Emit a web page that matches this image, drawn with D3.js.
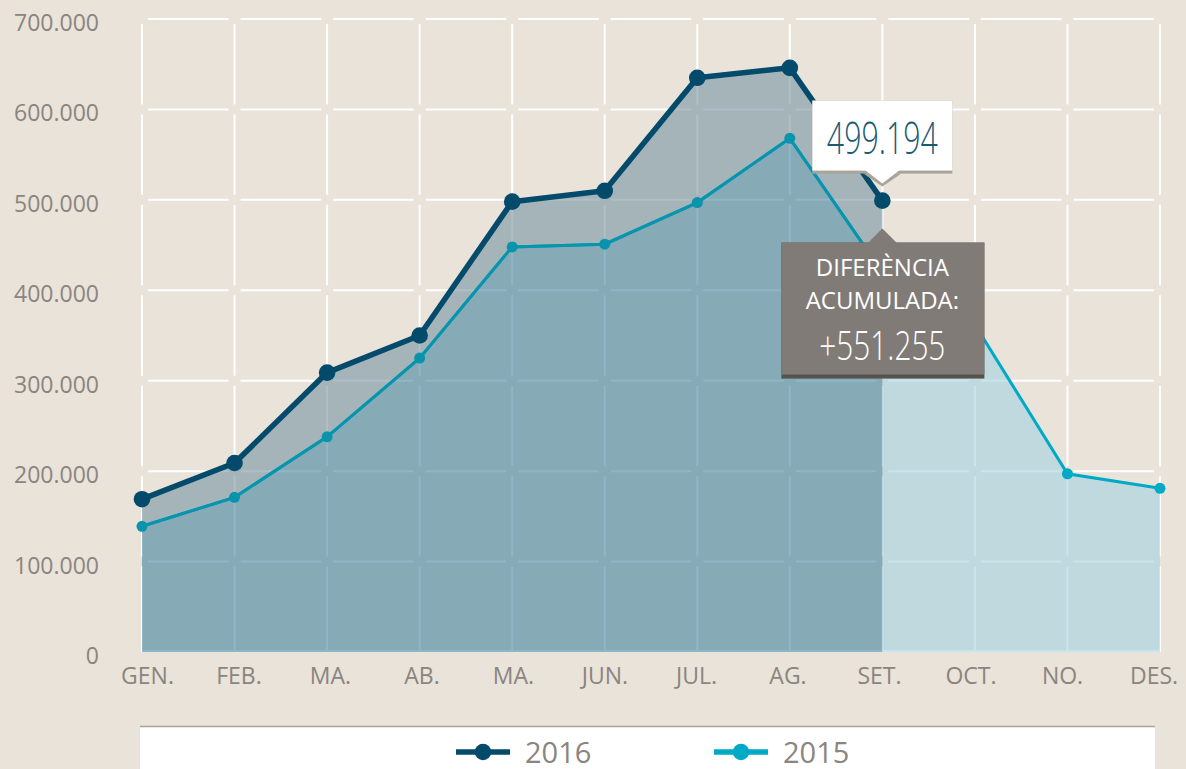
<!DOCTYPE html>
<html>
<head>
<meta charset="utf-8">
<script src="https://cdn.jsdelivr.net/npm/d3@7"></script>
<style>
  body { margin: 0; background: #e9e3da; }
  svg { display: block; font-family: "Open Sans", sans-serif; }
</style>
</head>
<body>
<div id="chart"></div>
<script>
// chart data
const months = ["GEN.", "FEB.", "MA.", "AB.", "MA.", "JUN.", "JUL.", "AG.", "SET.", "OCT.", "NO.", "DES."];
const values2016 = [169000, 209000, 309000, 350000, 498000, 510000, 635000, 646000, 499194];
const values2015 = [139000, 171000, 238000, 325000, 448000, 451000, 497000, 568000, 420000, 362000, 197000, 181000];
const yTicks = [0, 100000, 200000, 300000, 400000, 500000, 600000, 700000];
const seriesNames = ["2016", "2015"];
const diffTitle = ["DIFERÈNCIA", "ACUMULADA:"];
const diffValue = "+551.255";

const width = 1186, height = 769;
const colors = {bg: "#e9e3da", dark: "#034a6b", teal: "#00aac6", tealDim: "#0a93ac", text: "#8a857f"};

const locale = d3.formatLocale({decimal: ",", thousands: ".", grouping: [3], currency: ["", "€"]});
const fmt = locale.format(",d");

function drawChart() {
    const svg = d3.select("#chart").append("svg")
        .attr("width", width)
        .attr("height", height);

    svg.append("rect").attr("width", width).attr("height", height).attr("fill", colors.bg);

    const x = d3.scaleLinear().domain([0, months.length - 1]).range([142, 1160]);
    const xLabel = d3.scaleLinear().domain([0, months.length - 1]).range([147.5, 1154]);
    const y = d3.scaleLinear().domain([0, 700000]).range([652, 19]);

    // grid cells: white segments with small gaps at the crossings
    const grid = svg.append("g").attr("stroke", "#fff").attr("stroke-width", 2);
    const hSegs = [];
    yTicks.slice(1).forEach(t => {
        d3.range(months.length - 1).forEach(i => hSegs.push({t, i}));
    });
    grid.selectAll(".h").data(hSegs).join("line")
        .attr("x1", d => x(d.i) + 6)
        .attr("x2", d => x(d.i + 1) - 6)
        .attr("y1", d => y(d.t))
        .attr("y2", d => y(d.t));
    const vSegs = [];
    d3.range(months.length).forEach(i => {
        d3.range(yTicks.length - 1).forEach(j => vSegs.push({i, j}));
    });
    grid.selectAll(".v").data(vSegs).join("line")
        .attr("x1", d => x(d.i))
        .attr("x2", d => x(d.i))
        .attr("y1", d => y(yTicks[d.j + 1]) + 5)
        .attr("y2", d => d.j === 0 ? y(0) : y(yTicks[d.j]) - 5);
    grid.append("line")
        .attr("x1", x(0) - 1).attr("x2", x(months.length - 1))
        .attr("y1", y(0) - 1).attr("y2", y(0) - 1);

    const last = values2016.length - 1;
    const pts2015 = values2015.map((v, i) => ({i, v}));
    const pts2016 = values2016.map((v, i) => ({i, v}));

    // areas
    const area = d3.area().x(d => x(d.i)).y0(y(0)).y1(d => y(d.v));
    svg.append("path")
        .datum(pts2015.slice(last))
        .attr("fill", "#a3d2e1").attr("fill-opacity", 0.6)
        .attr("d", area);
    svg.append("path")
        .datum(pts2015.slice(0, last + 1))
        .attr("fill", "#4486a0").attr("fill-opacity", 0.6)
        .attr("d", area);
    const band = d3.area()
        .x(d => x(d.i))
        .y0(d => y(values2015[d.i]))
        .y1(d => y(d.v));
    svg.append("path")
        .datum(pts2016)
        .attr("fill", "#7895a3").attr("fill-opacity", 0.6)
        .attr("d", band);

    // lines
    const line = d3.line().x(d => x(d.i)).y(d => y(d.v));
    svg.append("path").datum(pts2015)
        .attr("fill", "none").attr("stroke", colors.teal).attr("stroke-width", 3)
        .attr("d", line);
    svg.append("path").datum(pts2015.slice(0, last + 1))
        .attr("fill", "none").attr("stroke", colors.tealDim).attr("stroke-width", 3)
        .attr("d", line);
    svg.selectAll(".dot15").data(pts2015).join("circle")
        .attr("cx", d => x(d.i)).attr("cy", d => y(d.v)).attr("r", 5.5)
        .attr("fill", d => d.i <= last ? colors.tealDim : colors.teal);

    svg.append("path").datum(pts2016)
        .attr("fill", "none").attr("stroke", colors.dark).attr("stroke-width", 5.5)
        .attr("stroke-linejoin", "round")
        .attr("d", line);
    svg.selectAll(".dot16").data(pts2016).join("circle")
        .attr("cx", d => x(d.i)).attr("cy", d => y(d.v)).attr("r", 8.3)
        .attr("fill", colors.dark);

    // axes labels
    svg.append("g").selectAll("text").data(yTicks).join("text")
        .attr("x", 99).attr("y", d => y(d) + 12)
        .attr("text-anchor", "end")
        .attr("font-size", 23).attr("fill", colors.text)
        .text(d => fmt(d));
    svg.append("g").selectAll("text").data(months).join("text")
        .attr("x", (d, i) => xLabel(i)).attr("y", 684)
        .attr("text-anchor", "middle")
        .attr("font-size", 23).attr("fill", colors.text)
        .text(d => d);

    // tooltips at the last 2016 point
    const px = x(last), py = y(values2016[last]);
    const tip = svg.append("g");
    tip.append("rect").attr("x", px - 70).attr("y", py - 100).attr("width", 140).attr("height", 73)
        .attr("fill", "#a9a499");
    tip.append("path")
        .attr("d", `M${px - 19},${py - 27} L${px},${py - 14} L${px + 19},${py - 27} Z`)
        .attr("fill", "#a9a499");
    tip.append("rect").attr("x", px - 70).attr("y", py - 100).attr("width", 140).attr("height", 70)
        .attr("fill", "#fff");
    tip.append("path")
        .attr("d", `M${px - 18},${py - 31} L${px},${py - 17} L${px + 18},${py - 31} Z`)
        .attr("fill", "#fff");
    tip.append("text")
        .attr("x", px).attr("y", py - 47)
        .attr("text-anchor", "middle")
        .attr("font-size", 44).attr("font-weight", 300).attr("fill", "#1b5a75")
        .attr("textLength", 111).attr("lengthAdjust", "spacingAndGlyphs")
        .text(fmt(values2016[last]));

    const box = svg.append("g");
    box.append("rect").attr("x", px - 101).attr("y", py + 42).attr("width", 203).attr("height", 136)
        .attr("fill", "#57524e");
    box.append("rect").attr("x", px - 101).attr("y", py + 42).attr("width", 203).attr("height", 132)
        .attr("fill", "#807b77");
    box.append("path")
        .attr("d", `M${px - 15},${py + 43} L${px},${py + 28} L${px + 15},${py + 43} Z`)
        .attr("fill", "#807b77");
    box.selectAll(".t").data(diffTitle).join("text")
        .attr("x", px).attr("y", (d, i) => py + 75.5 + i * 33)
        .attr("text-anchor", "middle")
        .attr("font-size", 24).attr("fill", "#fff")
        .text(d => d);
    box.append("text")
        .attr("x", px).attr("y", py + 159.5)
        .attr("text-anchor", "middle")
        .attr("font-size", 40).attr("font-weight", 300).attr("fill", "#fff")
        .attr("textLength", 126).attr("lengthAdjust", "spacingAndGlyphs")
        .text(diffValue);

    // legend
    const legend = svg.append("g");
    legend.append("rect").attr("x", 140).attr("y", 726).attr("width", 1015).attr("height", 50)
        .attr("fill", "#fff");
    legend.append("line").attr("x1", 140).attr("x2", 1155).attr("y1", 726.5).attr("y2", 726.5)
        .attr("stroke", "#a9a499").attr("stroke-width", 1.5);
    const items = [
        {name: seriesNames[0], color: colors.dark, x0: 456},
        {name: seriesNames[1], color: colors.teal, x0: 714}
    ];
    const it = legend.selectAll(".item").data(items).join("g")
        .attr("transform", d => `translate(${d.x0},752)`);
    it.append("line").attr("x1", 0).attr("x2", 54).attr("y1", 0).attr("y2", 0)
        .attr("stroke", d => d.color).attr("stroke-width", 5.5);
    it.append("circle").attr("cx", 27).attr("r", 8.3).attr("fill", d => d.color);
    it.append("text").attr("x", 69).attr("y", 10.5)
        .attr("font-size", 29).attr("fill", colors.text)
        .text(d => d.name);
}

drawChart();
</script>
</body>
</html>
